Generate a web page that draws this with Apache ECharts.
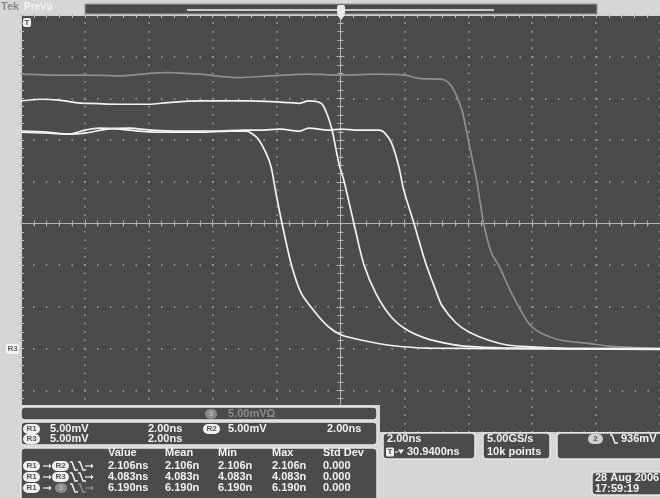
<!DOCTYPE html>
<html><head><meta charset="utf-8">
<script src="https://cdn.jsdelivr.net/npm/echarts@6/dist/echarts.min.js"></script>
<style>html,body{margin:0;padding:0;background:#d6d6d6}#c{width:660px;height:498px}</style>
</head><body><div id="c"></div>
<script>
// time in ns (2.00 ns/div), amplitude in mV (5.00 mV/div)
const traceGray = [[-10,17.9],[-9.1,17.8],[-8.0,17.8],[-6.9,17.7],[-6.0,18.0],[-5.4,18.1],[-4.4,17.9],[-3.2,17.5],[-2.2,17.7],[-1.0,17.9],[0,17.8],[1.2,17.9],[2.0,17.8],[2.45,17.4],[3.1,17.3],[3.25,17.2],[3.4,16.8],[3.55,16.0],[3.8,13.6],[4.0,10.0],[4.27,5.0],[4.48,0],[4.73,-3.6],[4.95,-5.0],[5.36,-8.4],[5.9,-12.0],[6.3,-13.2],[6.9,-14.0],[7.8,-14.4],[8.4,-14.7],[10,-15.0]];
const traceA = [[-10,14.7],[-9.4,14.9],[-8.8,14.8],[-8.3,14.5],[-7.9,14.4],[-6.9,14.3],[-6.0,14.3],[-5.4,14.5],[-4.4,14.7],[-2.9,14.7],[-1.6,14.5],[-1.3,14.4],[-1.0,14.7],[-0.6,14.4],[-0.45,13.4],[-0.27,11.3],[-0.05,7.2],[0.11,5.1],[0.42,0.0],[0.73,-4.9],[1.11,-8.4],[1.61,-11.3],[2.14,-12.9],[2.77,-13.9],[3.36,-14.4],[3.9,-14.7],[5.0,-14.9],[10,-15.0]];
const traceB = [[-10,10.95],[-9.1,10.83],[-8.5,10.71],[-8.0,11.19],[-7.55,11.43],[-6.9,11.31],[-6.3,11.07],[-5.7,10.95],[-4.4,10.95],[-3.5,11.07],[-2.95,11.07],[-2.6,10.23],[-2.33,8.43],[-2.17,6.75],[-2.02,3.63],[-1.83,0.0],[-1.55,-4.76],[-1.23,-8.36],[-0.77,-10.76],[-0.36,-12.44],[0.05,-13.4],[0.67,-14.0],[1.52,-14.6],[2.77,-14.95],[10,-15.07]];
const traceC = [[-10,11.07],[-9.2,10.95],[-8.5,10.71],[-8.0,10.83],[-7.3,11.31],[-6.6,11.43],[-5.9,11.19],[-5.0,11.07],[-4.0,11.07],[-3.0,11.19],[-2.5,11.19],[-1.9,11.31],[-1.3,11.07],[-1.0,11.43],[-0.36,11.19],[0,11.31],[0.58,11.19],[1.2,11.19],[1.36,10.95],[1.6,9.63],[1.83,6.75],[1.98,4.0],[2.30,0.0],[2.67,-4.8],[2.98,-8.0],[3.17,-9.8],[3.61,-11.9],[4.02,-13.0],[4.64,-14.0],[5.27,-14.6],[6.0,-14.8],[7.0,-15.0],[10,-15.1]];
const chanRows = [['R1','5.00mV','2.00ns','R2','5.00mV','2.00ns'],['R3','5.00mV','2.00ns']];
const mathLabel = '5.00mVΩ';
const measHeaders = ['Value','Mean','Min','Max','Std Dev'];
const measRows = [
  ['2.106ns','2.106n','2.106n','2.106n','0.000'],
  ['4.083ns','4.083n','4.083n','4.083n','0.000'],
  ['6.190ns','6.190n','6.190n','6.190n','0.000']];
const measTargets = ['R2','R3','3'];
const horizLines = ['2.00ns','30.9400ns'];
const acqLines = ['5.00GS/s','10k points'];
const trigLevel = '936mV';
const dateLines = ['28 Aug 2006','17:59:19'];

const G = {left:21, top:15, width:640, height:417};
const DIM = '#4b4b4b', LINE='#cfcfcf';
function centerAxis(dim, grid, inside){
  const base = {gridIndex:grid, type:'value', axisLabel:{show:false}, splitLine:{show:false},
    axisLine:{show:true, onZero:true, lineStyle:{color:'#b2b2b2', width:1}},
    axisTick:{show:true, inside:inside, length:4, lineStyle:{color:'#b2b2b2'}},
    minorTick:{show:true, splitNumber:5, length:3, lineStyle:{color:'#b2b2b2'}}};
  if(dim==='x') return Object.assign(base,{min:-10,max:10,interval:2,position:'bottom'});
  return Object.assign(base,{min:-25,max:25,interval:5,position:'left'});
}
const F = 'bold 11px "Liberation Sans", Arial, sans-serif';
const W = '#f2f2f2';
const g = [];
function box(x,y,w,h){ g.push({type:'rect', shape:{x:x,y:y,width:w,height:h,r:4}, style:{fill:DIM, stroke:'#e6e6e6', lineWidth:1.5}, z:100}); }
function txt(x,y,s,col,font,align){ g.push({type:'text', x:x, y:y, style:{text:s, fill:col||W, font:font||F, textVerticalAlign:'middle', textAlign:align||'left'}, z:102}); }
function badge(cx,cy,s,fill,col,w){ w=w||17; g.push({type:'rect', shape:{x:cx-w/2,y:cy-5,width:w,height:10,r:5}, style:{fill:fill||'#f0f0f0'}, z:101});
  g.push({type:'text', x:cx, y:cy, style:{text:s, fill:col||'#555', font:'bold 8px "Liberation Sans", Arial, sans-serif', textAlign:'center', textVerticalAlign:'middle'}, z:102}); }
function edge(x,y,col){ g.push({type:'polyline', shape:{points:[[x,y-4],[x+2,y-4],[x+5,y+4],[x+8,y+4]]}, style:{stroke:col||W, lineWidth:1.5, fill:null}, z:102}); }
function arrow(x,y,col){ g.push({type:'polyline', shape:{points:[[x,y],[x+6,y]]}, style:{stroke:col||W, lineWidth:1.2}, z:102});
  g.push({type:'polygon', shape:{points:[[x+6,y-2.5],[x+8.5,y],[x+6,y+2.5]]}, style:{fill:col||W}, z:102}); }

// header
txt(1,7,'Tek','#8a8a8a','bold 11px "Liberation Sans", Arial, sans-serif');
txt(24,7,'PreVu','#f4f4f4','bold 10px "Liberation Sans", Arial, sans-serif');
g.push({type:'rect', shape:{x:85,y:4,width:512,height:10}, style:{fill:DIM, stroke:'#9a9a9a', lineWidth:1}, z:100});
g.push({type:'line', shape:{x1:187,y1:10,x2:494,y2:10}, style:{stroke:'#f4f4f4', lineWidth:1.5}, z:101});
g.push({type:'rect', shape:{x:337,y:5,width:8,height:10,r:2}, style:{fill:'#e8e8e8'}, z:102});
g.push({type:'polygon', shape:{points:[[337,15],[345,15],[341,20]]}, style:{fill:'#e8e8e8'}, z:102});
// T marker in plot
g.push({type:'rect', shape:{x:23,y:18,width:8,height:9,r:2}, style:{fill:'#eeeeee'}, z:102});
txt(27,22.5,'T','#4b4b4b','bold 8px "Liberation Sans", Arial, sans-serif','center');
// R3 ground marker
g.push({type:'rect', shape:{x:6,y:344,width:13,height:10,r:2}, style:{fill:'#f4f4f4'}, z:102});
txt(12.5,349,'R3','#666','bold 8px "Liberation Sans", Arial, sans-serif','center');

// readout boxes left
g.push({type:'rect', shape:{x:0,y:405,width:380,height:93}, style:{fill:'#d6d6d6'}, z:99});
box(21,407,356,13);
badge(211,414,'3','#8a8a8a','#bbb',12);
txt(228,414,mathLabel,'#8c8c8c');
box(21,422,356,23);
badge(31.5,429,chanRows[0][0]); txt(50,429,chanRows[0][1]); txt(148,429,chanRows[0][2]);
badge(211.5,429,chanRows[0][3]); txt(228,429,chanRows[0][4]); txt(327,429,chanRows[0][5]);
badge(31.5,439,chanRows[1][0]); txt(50,439,chanRows[1][1]); txt(148,439,chanRows[1][2]);
box(21,448,356,56);
const cols=[108,165,218,272,323];
measHeaders.forEach((h,i)=>txt(cols[i],453,h));
measRows.forEach((r,j)=>{
  const y=466+j*11, dim=(j===2);
  badge(31.5,y,'R1');
  arrow(43,y);
  if(dim){ badge(61,y,measTargets[j],'#8a8a8a','#bbb',12); edge(70,y,W); edge(78,y,'#8a8a8a'); arrow(85,y,'#8a8a8a'); }
  else { badge(60.5,y,measTargets[j]); edge(70,y); edge(78,y); arrow(85,y); }
  r.forEach((v,i)=>txt(cols[i],y,v));
});
// right boxes
g.push({type:'rect', shape:{x:380,y:432,width:280,height:66}, style:{fill:'#d6d6d6'}, z:99});
box(383,433,92,26);
txt(387,439,horizLines[0]);
g.push({type:'rect', shape:{x:386,y:447.5,width:8,height:9,r:1.5}, style:{fill:'#eeeeee'}, z:102});
txt(390,452,'T','#4b4b4b','bold 8px "Liberation Sans", Arial, sans-serif','center');
g.push({type:'line', shape:{x1:395,y1:452,x2:398,y2:452}, style:{stroke:W,lineWidth:1.2}, z:102});
g.push({type:'polygon', shape:{points:[[398,449.5],[404,449.5],[401,454]]}, style:{fill:W}, z:102});
txt(407,452,horizLines[1]);
box(483,433,67,26);
txt(487,439,acqLines[0]); txt(487,452,acqLines[1]);
box(557,433,110,26);
badge(595.5,439,'2','#d0d0d0','#555',15);
edge(610,439);
txt(621,439,trigLevel);
box(592,472,75,23);
txt(595,478,dateLines[0]); txt(595,489,dateLines[1]);

const lineS = (d,col)=>({type:'line', data:d, xAxisIndex:0, yAxisIndex:0, showSymbol:false, smooth:0.25, lineStyle:{color:col, width:1.7}, z:3, silent:true});
const chart = echarts.init(document.getElementById('c'), null, {renderer:'canvas'});
chart.setOption({
  animation:false,
  backgroundColor:'#d6d6d6',
  grid:[Object.assign({show:true, backgroundColor:DIM, borderWidth:0},G), Object.assign({},G), Object.assign({},G)],
  xAxis:[
    {gridIndex:0, type:'value', min:-10, max:10, interval:2, position:'top',
     axisLine:{show:true, onZero:false, lineStyle:{color:LINE, width:1}},
     axisTick:{show:true, inside:true, length:3, lineStyle:{color:'#bdbdbd'}},
     minorTick:{show:true, splitNumber:5, length:3, lineStyle:{color:'#bdbdbd'}},
     axisLabel:{show:false},
     splitLine:{show:true, lineStyle:{color:'#a4a4a4', width:1.5, type:[1.5,6.84], dashOffset:0.75}}},
    centerAxis('x',1,false), centerAxis('x',2,true)
  ],
  yAxis:[
    {gridIndex:0, type:'value', min:-25, max:25, interval:5, position:'left',
     axisLine:{show:true, onZero:false, lineStyle:{color:LINE, width:1}},
     axisTick:{show:true, inside:true, length:3, lineStyle:{color:'#bdbdbd'}},
     minorTick:{show:true, splitNumber:5, length:3, lineStyle:{color:'#bdbdbd'}},
     axisLabel:{show:false},
     splitLine:{show:true, lineStyle:{color:'#a4a4a4', width:1.5, type:[1.5,11.3], dashOffset:0.75}}},
    centerAxis('y',1,false), centerAxis('y',2,true)
  ],
  series:[lineS(traceGray,'#8e8e8e'), lineS(traceB,'#f2f2f2'), lineS(traceC,'#f2f2f2'), lineS(traceA,'#f2f2f2')],
  graphic:g
});
</script></body></html>
